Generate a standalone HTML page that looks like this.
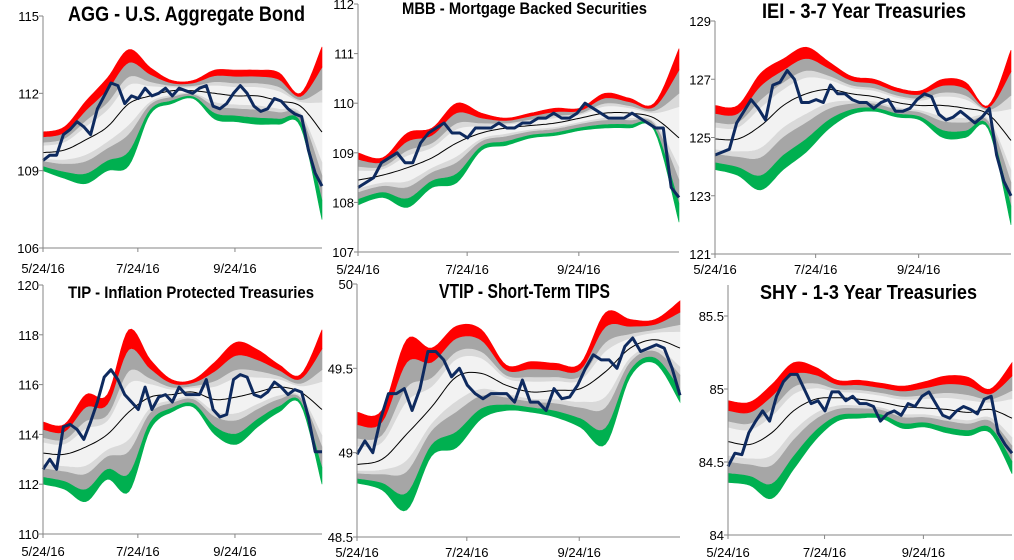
<!DOCTYPE html>
<html><head><meta charset="utf-8"><style>
html,body{margin:0;padding:0;background:#fff;}
svg{display:block;font-family:"Liberation Sans",sans-serif;}
</style></head><body>
<svg id="c" width="1014" height="560" viewBox="0 0 1014 560"></svg>
<script>
const dateLabels = ["5/24/16","7/24/16","9/24/16"];
const aggPrice=[109.4,109.6,109.6,110.4,110.6,110.9,110.7,110.4,111.4,111.9,112.4,112.3,111.6,111.9,111.8,112.2,111.9,112.0,112.2,111.9,112.2,112.1,112.0,112.2,112.3,111.5,111.4,111.6,112.0,112.3,112.0,111.5,111.3,111.4,111.8,111.7,111.4,111.2,111.1,109.8,108.9,108.4];
const aggUpper=[110.5,110.7,111.7,112.6,113.7,113.0,112.5,112.5,112.9,112.9,112.9,112.8,112.0,113.8];
const aggMA=[109.7,109.8,110.2,110.7,111.6,111.9,112.1,112.1,112.0,111.9,111.9,111.7,111.5,110.5];
const aggLower=[109.0,108.7,108.5,109.0,109.2,111.2,111.6,111.8,111.0,110.9,110.8,110.8,110.7,107.1];
const aggTicks=[106,109,112,115];

const mbbPrice=[108.3,108.4,108.5,108.8,108.9,109.0,108.8,108.8,109.2,109.4,109.5,109.6,109.4,109.4,109.3,109.5,109.5,109.5,109.6,109.5,109.5,109.6,109.6,109.7,109.7,109.8,109.7,109.7,109.8,110.0,109.9,109.8,109.7,109.7,109.7,109.8,109.7,109.6,109.5,109.5,108.3,108.1];
const mbbUpper=[109.0,108.9,109.4,109.5,110.0,109.8,109.7,109.8,109.9,109.9,110.2,110.1,110.0,111.1];
const mbbMA=[108.45,108.55,108.7,108.9,109.2,109.4,109.5,109.55,109.6,109.7,109.8,109.8,109.7,109.3];
const mbbLower=[107.95,108.1,107.9,108.3,108.4,109.05,109.15,109.3,109.35,109.45,109.5,109.5,109.45,107.6];
const mbbTicks=[107,108,109,110,111,112];

const ieiPrice=[124.4,124.5,124.6,125.5,125.9,126.3,126.0,125.6,126.8,126.9,127.3,127.0,126.2,126.2,126.3,126.2,126.8,126.5,126.5,126.3,126.2,126.2,126.0,126.2,126.3,125.9,125.9,126.0,126.3,126.5,126.4,125.8,125.6,125.7,125.9,125.7,125.5,125.7,126.0,124.4,123.5,123.0];
const ieiUpper=[126.1,126.1,127.2,127.7,128.1,127.6,127.1,127.0,126.7,126.6,127.0,126.9,126.1,128.0];
const ieiMA=[124.95,124.95,125.4,126.1,126.5,126.65,126.5,126.4,126.2,126.1,126.1,126.0,125.8,124.9];
const ieiLower=[123.9,123.7,123.2,123.9,124.5,125.3,125.8,125.9,125.7,125.6,125.0,125.0,125.3,122.0];
const ieiTicks=[121,123,125,127,129];

const tipPrice=[112.6,113.0,112.6,114.3,114.4,114.2,113.8,114.5,115.3,116.3,116.6,116.2,115.6,115.3,115.0,115.9,115.0,115.5,115.6,115.3,115.9,115.6,115.6,115.6,116.2,115.0,114.7,114.8,116.2,116.4,116.3,115.6,115.5,115.7,116.1,115.9,115.6,115.8,115.7,114.7,113.3,113.3];
const tipUpper=[114.5,114.4,115.6,115.6,118.2,117.0,116.2,116.2,116.9,117.7,117.4,116.8,116.4,118.2];
const tipMA=[113.25,113.2,113.5,114.0,114.9,115.5,115.6,115.7,115.4,115.5,115.7,115.9,115.7,115.0];
const tipLower=[112.0,111.8,111.3,112.2,111.7,114.2,114.9,115.1,114.0,113.6,114.3,114.9,115.2,112.0];
const tipTicks=[110,112,114,116,118,120];

const vtipPrice=[48.99,49.07,49.0,49.2,49.35,49.35,49.38,49.25,49.38,49.6,49.6,49.55,49.45,49.5,49.4,49.35,49.32,49.35,49.35,49.35,49.3,49.43,49.3,49.3,49.25,49.38,49.32,49.33,49.4,49.5,49.58,49.55,49.55,49.5,49.63,49.68,49.6,49.62,49.64,49.62,49.5,49.34];
const vtipUpper=[49.24,49.25,49.67,49.62,49.75,49.73,49.52,49.54,49.53,49.53,49.83,49.79,49.79,49.9];
const vtipMA=[48.93,48.96,49.11,49.27,49.45,49.47,49.4,49.36,49.37,49.38,49.48,49.62,49.67,49.62];
const vtipLower=[48.82,48.78,48.66,48.98,49.03,49.2,49.25,49.24,49.21,49.15,49.05,49.45,49.53,49.3];
const vtipTicks=[48.5,49,49.5,50];

const shyPrice=[84.47,84.56,84.55,84.7,84.78,84.85,84.78,84.95,85.05,85.1,85.1,85.0,84.9,84.92,84.85,84.98,84.98,84.92,84.95,84.9,84.9,84.88,84.78,84.83,84.85,84.82,84.9,84.88,84.95,84.98,84.9,84.82,84.8,84.85,84.88,84.86,84.83,84.93,84.95,84.7,84.62,84.56];
const shyUpper=[84.92,84.91,85.03,85.18,85.15,85.06,85.06,85.04,85.02,85.05,85.09,85.08,85.0,85.18];
const shyMA=[84.64,84.62,84.7,84.85,84.93,84.94,84.93,84.91,84.88,84.87,84.86,84.84,84.86,84.8];
const shyLower=[84.36,84.34,84.25,84.45,84.65,84.78,84.8,84.8,84.73,84.74,84.7,84.68,84.7,84.42];
const shyTicks=[84,84.5,85,85.5];

const panels=[
 {id:"agg",title:"AGG - U.S. Aggregate Bond",tx:68,tw:237,ty:21,fs:21,x0:43,x1:322,vTop:115,yTop:16,vBot:106,yBot:248,axTop:16,dateY:273,price:aggPrice,up:aggUpper,ma:aggMA,lo:aggLower,ticks:aggTicks},
 {id:"mbb",title:"MBB - Mortgage Backed Securities",tx:402,tw:245,ty:14,fs:17,x0:358,x1:679,vTop:112,yTop:4,vBot:107,yBot:252,axTop:4,dateY:274,price:mbbPrice,up:mbbUpper,ma:mbbMA,lo:mbbLower,ticks:mbbTicks},
 {id:"iei",title:"IEI - 3-7 Year Treasuries",tx:762,tw:204,ty:18,fs:21,x0:715,x1:1011,vTop:129,yTop:21,vBot:121,yBot:254,axTop:21,dateY:274,price:ieiPrice,up:ieiUpper,ma:ieiMA,lo:ieiLower,ticks:ieiTicks},
 {id:"tip",title:"TIP - Inflation Protected Treasuries",tx:68,tw:246,ty:298,fs:17,x0:43,x1:322,vTop:120,yTop:285,vBot:110,yBot:534,axTop:285,dateY:556,price:tipPrice,up:tipUpper,ma:tipMA,lo:tipLower,ticks:tipTicks},
 {id:"vtip",title:"VTIP - Short-Term TIPS",tx:439,tw:171,ty:298,fs:20,x0:357,x1:680,vTop:50,yTop:284,vBot:48.5,yBot:537,axTop:284,dateY:557,price:vtipPrice,up:vtipUpper,ma:vtipMA,lo:vtipLower,ticks:vtipTicks},
 {id:"shy",title:"SHY - 1-3 Year Treasuries",tx:760,tw:217,ty:299,fs:20,x0:728,x1:1012,vTop:85.5,yTop:316,vBot:84,yBot:535,axTop:285,dateY:557,price:shyPrice,up:shyUpper,ma:shyMA,lo:shyLower,ticks:shyTicks}
];
const upperShades=[[0,0.35,"#f2f2f2"],[0.35,0.5,"#d9d9d9"],[0.5,0.76,"#a6a6a6"],[0.76,1,"#ff0000"]];
const lowerShades=[[0,0.35,"#f2f2f2"],[0.35,0.5,"#d9d9d9"],[0.5,0.78,"#a6a6a6"],[0.78,1,"#00b050"]];
const NS="http://www.w3.org/2000/svg";
const svg=document.getElementById("c");
function mk(tag,attrs,parent){const e=document.createElementNS(NS,tag);for(const k in attrs)e.setAttribute(k,attrs[k]);(parent||svg).appendChild(e);return e;}
function smooth(pts,sub){
  const out=[];
  for(let i=0;i<pts.length-1;i++){
    const p0=pts[Math.max(0,i-1)],p1=pts[i],p2=pts[i+1],p3=pts[Math.min(pts.length-1,i+2)];
    for(let s=0;s<sub;s++){
      const t=s/sub,t2=t*t,t3=t2*t;
      const f=(a,b,c,d)=>0.5*((2*b)+(-a+c)*t+(2*a-5*b+4*c-d)*t2+(-a+3*b-3*c+d)*t3);
      out.push([f(p0[0],p1[0],p2[0],p3[0]),f(p0[1],p1[1],p2[1],p3[1])]);
    }
  }
  out.push(pts[pts.length-1]);
  return out;
}

panels.forEach(p=>{
  const g=mk("g",{});
  
  
  const yS=v=>p.yBot+(v-p.vBot)*(p.yTop-p.yBot)/(p.vTop-p.vBot);
  const xS=(i,n)=>p.x0+i*(p.x1-p.x0)/(n-1);
  const n=p.ma.length;
  function lvl(f,side){return p.ma.map((m,i)=>side>0? m+f*(p.up[i]-m) : m-f*(m-p.lo[i]));}
  function curve(vals){return smooth(vals.map((v,i)=>[xS(i,n),yS(v)]),8);}
  function band(a,b,side,color,name){
    const A=curve(lvl(a,side)),B=curve(lvl(b,side)).reverse();
    const pts=A.concat(B).map(q=>q[0].toFixed(1)+","+q[1].toFixed(1));
    const e=mk("polygon",{points:pts.join(" "),fill:color,stroke:color,"stroke-width":0.6},g);
    
    
  }
  upperShades.forEach((s,k)=>band(s[0],s[1],1,s[2],p.id+'-upper-band-'+k));
  lowerShades.forEach((s,k)=>band(s[0],s[1],-1,s[2],p.id+'-lower-band-'+k));
  const ma=mk("polyline",{points:curve(p.ma).map(q=>q[0].toFixed(1)+","+q[1].toFixed(1)).join(" "),fill:"none",stroke:"#000","stroke-width":1},g);
  
  
  const m=p.price.length;
  const pl=mk("polyline",{points:p.price.map((v,i)=>xS(i,m).toFixed(1)+","+yS(v).toFixed(1)).join(" "),fill:"none",stroke:"#0e2a5f","stroke-width":3,"stroke-linejoin":"round"},g);
  
  
  const ya=mk("line",{x1:p.x0,y1:p.axTop,x2:p.x0,y2:p.yBot,stroke:"#868686","stroke-width":1},g);
  
  
  const xa=mk("line",{x1:p.x0,y1:p.yBot,x2:p.x1,y2:p.yBot,stroke:"#868686","stroke-width":1},g);
  
  
  p.ticks.forEach(t=>{
    const y=yS(t);
    mk("line",{x1:p.x0-4,y1:y,x2:p.x0,y2:y,stroke:"#868686"},g);
    const tl=mk("text",{x:p.x0-4,y:y+5,"text-anchor":"end","font-size":13,fill:"#000"},g);
    tl.textContent=String(t);
    
    
  });
  const fr=[0,0.34,0.688];
  dateLabels.forEach((d,k)=>{
    const x=p.x0+fr[k]*(p.x1-p.x0);
    mk("line",{x1:x,y1:p.yBot,x2:x,y2:p.yBot+4,stroke:"#868686"},g);
    const tl=mk("text",{x:x,y:p.dateY,"text-anchor":"middle","font-size":13,fill:"#000"},g);
    tl.textContent=d;
    
    
  });
  const tt=mk("text",{x:p.tx,y:p.ty,"font-size":p.fs,"font-weight":"bold",fill:"#000",textLength:p.tw,lengthAdjust:"spacingAndGlyphs"},g);
  tt.textContent=p.title;
  
  
});
</script>
</body></html>
